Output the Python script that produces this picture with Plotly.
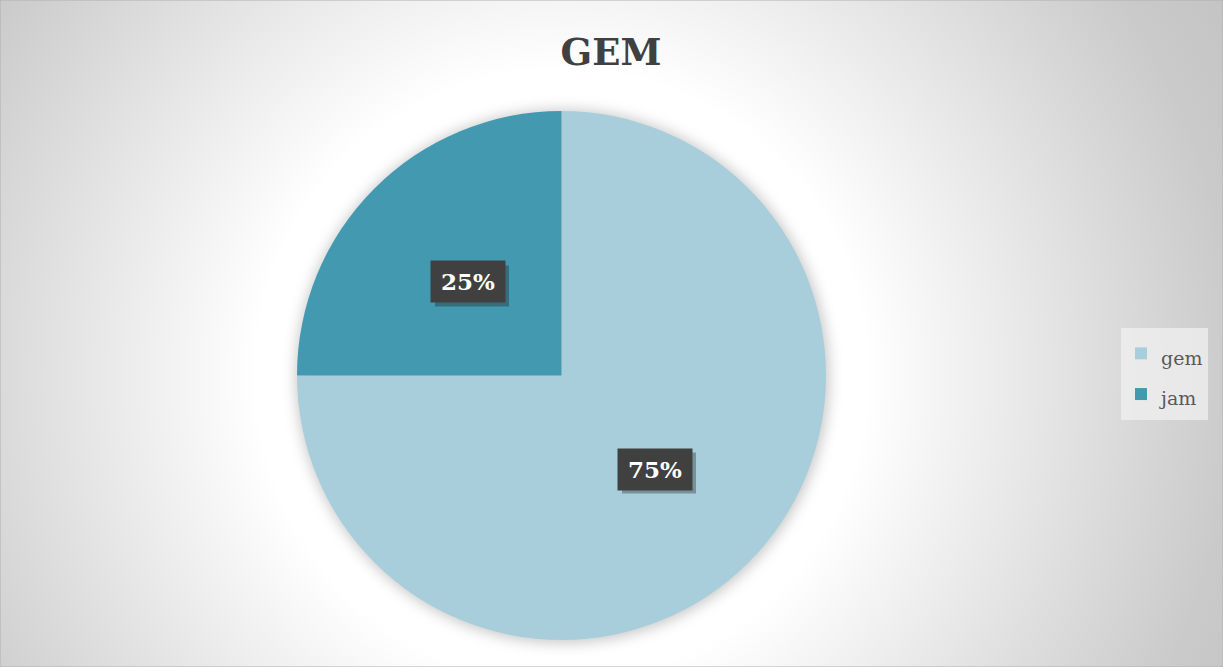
import base64
import math

import plotly.graph_objects as go

# data
labels = ["gem", "jam"]
values = [75, 25]
colors = ["#A9CEDB", "#4299B0"]
title_text = "GEM"

W, H = 1223, 667

# pie placement (paper coords)
dom_x = [297 / W, 826 / W]
dom_y = [1 - 640 / H, 1 - 111 / H]

cx_px = (dom_x[0] + dom_x[1]) / 2 * W
cy_px = (1 - (dom_y[0] + dom_y[1]) / 2) * H
R_px = min((dom_x[1] - dom_x[0]) * W, (dom_y[1] - dom_y[0]) * H) / 2

# background: radial gradient + soft shadow under the pie
svg = f"""<svg xmlns="http://www.w3.org/2000/svg" width="{W}" height="{H}">
<defs>
<radialGradient id="g" gradientUnits="userSpaceOnUse" cx="{cx_px}" cy="{cy_px}" r="760">
<stop offset="0" stop-color="#ffffff"/>
<stop offset="0.40" stop-color="#ffffff"/>
<stop offset="0.49" stop-color="#f5f5f5"/>
<stop offset="0.74" stop-color="#dadada"/>
<stop offset="0.89" stop-color="#cacaca"/>
<stop offset="1" stop-color="#c4c4c4"/>
</radialGradient>
<filter id="b" x="-20%" y="-20%" width="140%" height="140%"><feGaussianBlur stdDeviation="7"/></filter>
</defs>
<rect width="{W}" height="{H}" fill="url(#g)"/>
<circle cx="{cx_px + 1}" cy="{cy_px + 1}" r="{R_px + 2}" fill="#000" fill-opacity="0.22" filter="url(#b)"/>
</svg>"""
bg_src = "data:image/svg+xml;base64," + base64.b64encode(svg.encode()).decode()

fig = go.Figure()

fig.add_trace(
    go.Pie(
        labels=[f'<span style="font-size:19px">{l}</span>' for l in labels],
        values=values,
        sort=False,
        direction="clockwise",
        rotation=0,
        marker=dict(colors=colors, line=dict(width=0)),
        textinfo="none",
        hoverinfo="label+percent",
        domain=dict(x=dom_x, y=dom_y),
    )
)

# data labels: dark boxes at half radius along each slice's mid-angle
box_w, box_h = 74, 41
total = sum(values)
cum = 0
for lab, v in zip(labels, values):
    theta = 2 * math.pi * (cum + v / 2) / total
    cum += v
    px = cx_px + 0.5 * R_px * math.sin(theta)
    py = cy_px - 0.5 * R_px * math.cos(theta)
    txt = f"{round(100 * v / total)}%"
    # shadow
    fig.add_shape(
        type="rect", xref="paper", yref="paper",
        x0=(px - box_w / 2 + 4) / W, x1=(px + box_w / 2 + 4) / W,
        y0=1 - (py + box_h / 2 + 4) / H, y1=1 - (py - box_h / 2 + 4) / H,
        fillcolor="rgba(30,30,30,0.35)", line=dict(width=0), layer="above",
    )
    fig.add_annotation(
        x=px / W, y=1 - py / H, xref="paper", yref="paper",
        xanchor="center", yanchor="middle",
        text=f"<b>{txt}</b>", showarrow=False,
        font=dict(family="DejaVu Serif", size=23, color="#ffffff"),
        bgcolor="#404040", width=box_w - 12, height=box_h - 12, borderpad=6,
    )

# outer border
fig.add_shape(
    type="rect", xref="paper", yref="paper", x0=0, y0=0, x1=1, y1=1,
    line=dict(color="#b0b0b0", width=1),
)

fig.update_layout(
    width=W,
    height=H,
    margin=dict(l=0, r=0, t=0, b=0),
    paper_bgcolor="rgba(0,0,0,0)",
    plot_bgcolor="rgba(0,0,0,0)",
    images=[
        dict(
            source=bg_src, xref="paper", yref="paper", x=0, y=1,
            sizex=1, sizey=1, sizing="stretch", layer="below",
            xanchor="left", yanchor="top",
        )
    ],
    title=dict(
        text=f"<b>{title_text}</b>",
        x=611 / W, xanchor="center",
        y=1 - 52 / H, yanchor="middle",
        font=dict(family="DejaVu Serif", size=37, color="#404040"),
    ),
    legend=dict(
        x=1121 / W, xanchor="left",
        y=1 - 374 / H, yanchor="middle",
        bgcolor="rgba(240,240,240,0.75)",
        font=dict(family="DejaVu Serif", size=29, color="#595959"),
        itemwidth=30,
    ),
)

fig.write_html(
    "out.html",
    config={"displayModeBar": False},
    post_script="document.body.style.margin='0';",
)
